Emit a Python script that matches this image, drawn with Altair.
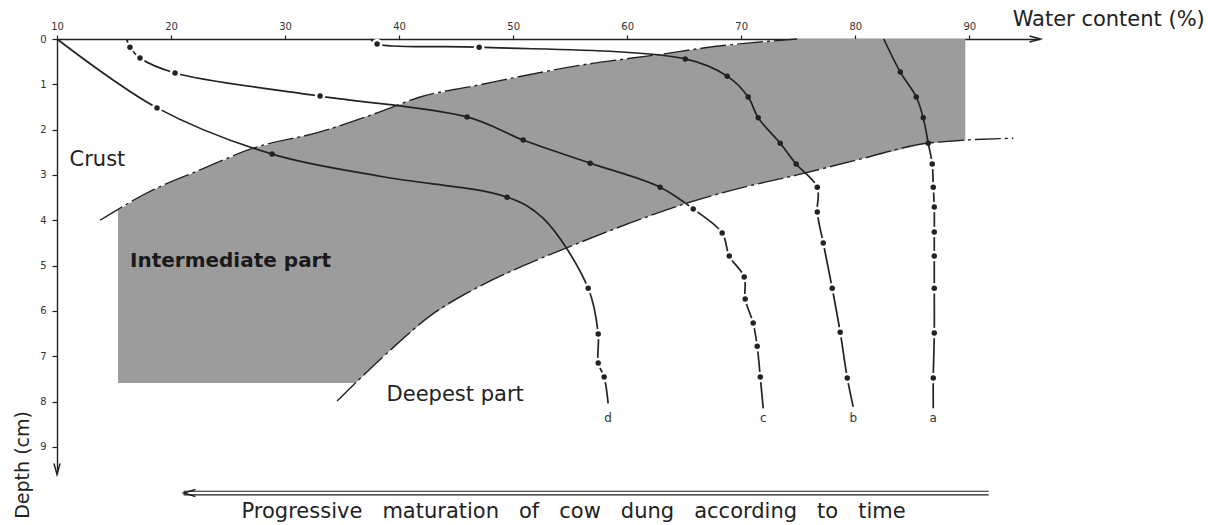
import altair as alt
import numpy as np
import pandas as pd

FONT = "DejaVu Sans"
INK = "#222222"

# ---- axis ticks ----
x_ticks = [10, 20, 30, 40, 50, 60, 70, 80, 90]
y_ticks = [0, 1, 2, 3, 4, 5, 6, 7, 8, 9]
X_MAX = 96.2
Y_MAX = 9.6

# ---- curves: line start, measured points, line end (water %, depth cm) ----
a_start = (82.5, 0.0)
a_water = [83.95, 85.35, 85.96, 86.40, 86.75, 86.84, 86.93, 86.93, 86.93, 86.93, 86.93, 86.84]
a_depth = [0.73, 1.28, 1.74, 2.30, 2.76, 3.27, 3.71, 4.26, 4.79, 5.50, 6.49, 7.48]
a_end = (86.84, 8.15)

b_start = (37.5, 0.0)
b_water = [38.07, 47.02, 65.09, 68.77, 70.61, 71.49, 73.42, 74.82, 76.67, 76.67, 77.19, 77.98, 78.68, 79.30]
b_depth = [0.11, 0.18, 0.44, 0.82, 1.28, 1.74, 2.30, 2.76, 3.27, 3.82, 4.50, 5.50, 6.47, 7.48]
b_end = (79.82, 8.12)

c_start = (16.1, 0.0)
c_water = [16.40, 17.28, 20.35, 33.07, 45.96, 50.88, 56.75, 62.89, 65.79, 68.33, 68.95, 70.26, 70.35, 71.05, 71.40, 71.67]
c_depth = [0.18, 0.42, 0.75, 1.26, 1.72, 2.23, 2.74, 3.27, 3.75, 4.28, 4.79, 5.25, 5.74, 6.27, 6.78, 7.46]
c_end = (71.93, 8.15)

d_start = (10.0, 0.0)
d_water = [18.77, 28.86, 49.47, 56.58, 57.46, 57.46, 57.98]
d_depth = [1.52, 2.54, 3.49, 5.50, 6.51, 7.15, 7.46]
d_end = (58.33, 8.04)
d_bend = [(38.6, 3.04), (52.6, 3.95)]   # line-only points where curve d bends

label_depth = 8.37

# ---- zone boundaries ----
upper_water = [13.77, 18.42, 22.54, 27.19, 33.07, 38.3, 41.84, 46.49, 56.14, 63.16, 66.67, 74.9]
upper_depth = [4.00, 3.33, 2.89, 2.41, 2.05, 1.61, 1.28, 1.04, 0.57, 0.33, 0.20, 0.0]
lower_water = [34.56, 39.21, 42.72, 47.11, 51.49, 55.26, 60.26, 65.26, 69.91, 74.91, 80.44, 86.32, 93.86]
lower_depth = [7.99, 6.87, 6.11, 5.45, 4.94, 4.55, 4.06, 3.62, 3.29, 3.00, 2.65, 2.30, 2.19]

# ---- shaded intermediate zone (left and right edge at each depth) ----
shade_depth = [0.0, 0.2, 0.33, 0.57, 1.04, 1.28, 1.61, 2.05, 2.25, 2.30, 2.41, 2.65, 2.89, 3.00, 3.29, 3.62, 3.78, 4.06, 4.55, 4.94, 5.45, 6.11, 6.87, 7.59]
shade_left = [74.9, 66.67, 63.16, 56.14, 46.49, 41.84, 38.3, 33.07, 29.8, 29.0, 27.19, 24.9, 22.54, 21.5, 18.8, 16.4, 15.35, 15.35, 15.35, 15.35, 15.35, 15.35, 15.35, 15.35]
shade_right = [89.65, 89.65, 89.65, 89.65, 89.65, 89.65, 89.65, 89.65, 89.65, 86.32, 84.5, 80.44, 76.65, 74.91, 69.91, 65.26, 63.4, 60.26, 55.26, 51.49, 47.11, 42.72, 39.21, 36.2]

# ---- build tables ----
def in_shade(w, d):
    if d > shade_depth[-1]:
        return False
    lo = np.interp(d, shade_depth, shade_left)
    hi = np.interp(d, shade_depth, shade_right)
    return lo - 0.6 <= w <= hi + 0.6

line_rows, dot_rows, end_rows = [], [], []
for name, st, ws, ds, en, extra in [
    ("a", a_start, a_water, a_depth, a_end, []),
    ("b", b_start, b_water, b_depth, b_end, []),
    ("c", c_start, c_water, c_depth, c_end, []),
    ("d", d_start, d_water, d_depth, d_end, d_bend),
]:
    pts = sorted([st] + list(zip(ws, ds)) + list(extra) + [en], key=lambda p: p[1])
    for i, (w, d) in enumerate(pts):
        line_rows.append({"curve": name, "water": w, "depth": d, "order": i})
    for w, d in zip(ws, ds):
        dot_rows.append({"curve": name, "water": w, "depth": d, "shaded": bool(in_shade(w, d))})
    end_rows.append({"curve": name, "water": en[0], "depth": label_depth})
lines_df = pd.DataFrame(line_rows)
dots_df = pd.DataFrame(dot_rows)
ends_df = pd.DataFrame(end_rows)

bound_df = pd.DataFrame(
    [{"b": "upper", "water": w, "depth": d} for w, d in zip(upper_water, upper_depth)]
    + [{"b": "lower", "water": w, "depth": d} for w, d in zip(lower_water, lower_depth)]
)
shade_df = pd.DataFrame({"depth": shade_depth, "left": shade_left, "right": shade_right})

xs = alt.Scale(domain=[10, X_MAX], nice=False, zero=False)
ys = alt.Scale(domain=[0, Y_MAX], nice=False, zero=False, reverse=True)

x_axis = alt.Axis(
    orient="top", values=x_ticks, title=None, grid=False, tickSize=4, tickColor=INK, tickWidth=1.2,
    domainColor=INK, domainWidth=1.4, labelFont=FONT, labelFontSize=10, labelColor="#333",
    labelPadding=4, labelFlush=False, labelOverlap=False)
y_axis = alt.Axis(
    orient="left", values=y_ticks, title=None, grid=False, tickSize=5, tickColor=INK, tickWidth=1.2,
    domainColor=INK, domainWidth=1.4, labelFont=FONT, labelFontSize=10, labelColor="#333",
    labelPadding=6, labelFlush=False, labelOverlap=False)

def X(f="water"):
    return alt.X(f"{f}:Q", scale=xs, axis=x_axis)

def Y(f="depth"):
    return alt.Y(f"{f}:Q", scale=ys, axis=y_axis)

shade = alt.Chart(shade_df).mark_area(color="#9c9c9c", orient="horizontal", opacity=1).encode(
    y=Y(), x=X("left"), x2="right:Q",
)

bounds = alt.Chart(bound_df).mark_line(
    color=INK, strokeWidth=1.4, strokeDash=[26, 4, 3, 4], interpolate="monotone"
).encode(x=X(), y=Y(), detail="b:N")

curves = alt.Chart(lines_df).mark_line(
    color=INK, strokeWidth=1.7, interpolate="catmull-rom"
).encode(x=X(), y=Y(), detail="curve:N", order="order:Q")

# white gaps around the points lying in the white (unshaded) area
halos = alt.Chart(dots_df).transform_filter("!datum.shaded").mark_circle(
    color="white", size=110, opacity=1
).encode(x=X(), y=Y())
dots = alt.Chart(dots_df).mark_circle(color=INK, size=30, opacity=1).encode(x=X(), y=Y())

end_labels = alt.Chart(ends_df).mark_text(
    font=FONT, fontSize=12, color="#333", baseline="middle"
).encode(x=X(), y=Y(), text="curve:N")

# arrowheads
arrow_x = alt.Chart(pd.DataFrame({"water": [X_MAX], "depth": [0]})).mark_point(
    shape="M-1,-0.55L1,0L-1,0.55", filled=False, stroke=INK, strokeWidth=1.5, size=120,
    xOffset=-5, opacity=1
).encode(x=X(), y=Y())
arrow_y = alt.Chart(pd.DataFrame({"water": [10], "depth": [Y_MAX]})).mark_point(
    shape="M-0.55,-1L0,1L0.55,-1", filled=False, stroke=INK, strokeWidth=1.5, size=120,
    yOffset=-5, opacity=1
).encode(x=X(), y=Y())

# bottom double arrow
time_from, time_to = 91.7, 21.1
rails = alt.Chart(pd.DataFrame({"x1": [time_to, time_to], "x2": [time_from, time_from], "depth": [9.98, 10.06]})).mark_rule(
    color=INK, strokeWidth=1.1
).encode(x=X("x1"), x2="x2:Q", y=Y())
arrow_t = alt.Chart(pd.DataFrame({"water": [time_to], "depth": [10.02]})).mark_point(
    shape="M1,-0.6L-1,0L1,0.6", filled=False, stroke=INK, strokeWidth=1.5, size=140,
    xOffset=6, opacity=1
).encode(x=X(), y=Y())

def label(txt, w, d, size, align="left", weight="normal", angle=0, color=INK):
    return alt.Chart(pd.DataFrame({"water": [w], "depth": [d], "t": [txt]})).mark_text(
        font=FONT, fontSize=size, align=align, baseline="middle", fontWeight=weight,
        angle=angle, color=color
    ).encode(x=X(), y=Y(), text="t:N")

GAP = "\u00a0\u00a0\u00a0"
bottom_words = ["Progressive", "maturation", "of", "cow", "dung", "according", "to", "time"]

texts = [
    label("Water content (%)", 93.8, -0.42, 21),
    label("Crust", 11.1, 2.67, 21),
    label("Intermediate part", 16.4, 4.9, 20, weight="bold", color="#1a1a1a"),
    label("Deepest part", 38.9, 7.86, 21),
    label(GAP.join(bottom_words), 55.3, 10.44, 21, align="center"),
    label("Depth (cm)", 7.0, 9.40, 19, align="center", angle=270),
]

chart = alt.layer(
    shade, bounds, curves, halos, dots, end_labels, arrow_x, arrow_y, rails, arrow_t, *texts
).properties(
    width=983, height=435,
    padding={"left": 57, "top": 39, "right": 168, "bottom": 51},
    autosize=alt.AutoSizeParams(type="none"),
    background="white",
).configure_view(stroke=None)

chart.save("out.html", embed_options={"renderer": "svg", "actions": False})
